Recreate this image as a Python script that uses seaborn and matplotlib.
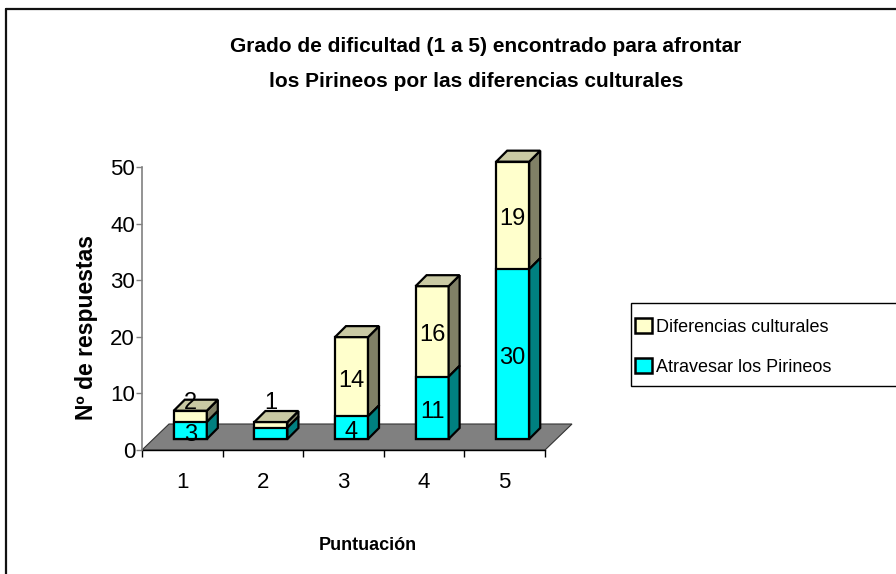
import numpy as np
import pandas as pd
import matplotlib
matplotlib.use("Agg")
import matplotlib.pyplot as plt
import matplotlib.transforms as mtransforms
from matplotlib.patches import Polygon, Patch, Rectangle
from matplotlib.lines import Line2D
import seaborn as sns

# values
puntuacion = ["1", "2", "3", "4", "5"]
atravesar = [3, 2, 4, 11, 30]
diferencias = [2, 1, 14, 16, 19]
etiquetas_atravesar = ["3", "", "4", "11", "30"]
etiquetas_diferencias = ["2", "1", "14", "16", "19"]
y_ticks = [0, 10, 20, 30, 40, 50]

titulo_1 = "Grado de dificultad (1 a 5) encontrado para afrontar"
titulo_2 = "los Pirineos por las diferencias culturales"

sns.set_theme(style="white")
plt.rcParams['font.family'] = ['Liberation Sans', 'DejaVu Sans']
plt.rcParams.update({"text.color": "black", "axes.labelcolor": "black",
                     "xtick.color": "black", "ytick.color": "black"})

cyan, cyan_side = "#00ffff", "#008080"
crema, crema_side, crema_top = "#ffffcc", "#808066", "#c9c9a3"
floor_col = "#808080"

# label nudges (px, relative to segment centre) - excel moves labels of thin segments up
nudge_atr = [-4, -4, -4, -4, -4]
nudge_dif = [13, 22, -4, -4, -4]

W, H = 896, 574
fig = plt.figure(figsize=(W / 100, H / 100), dpi=100)
fig.patch.set_facecolor("white")
ax = fig.add_axes([142 / W, 1 - 450 / H, (545 - 142) / W, (450 - 167) / H])

df = pd.DataFrame({"Puntuacion": puntuacion, "Atravesar": atravesar, "Diferencias": diferencias})
df["Total"] = df["Atravesar"] + df["Diferencias"]

bw = 0.41
sns.barplot(data=df, x="Puntuacion", y="Total", color=crema, saturation=1, width=bw,
            edgecolor="black", linewidth=1.6, ax=ax, zorder=3)
sns.barplot(data=df, x="Puntuacion", y="Atravesar", color=cyan, saturation=1, width=bw,
            edgecolor="black", linewidth=1.6, ax=ax, zorder=4)

ax.set_xlim(-0.5, 4.5)
ax.set_ylim(0, 50)

# pseudo 3d: pixel offsets turned into data units
p0 = ax.transData.transform((0, 0))
p1 = ax.transData.transform((1, 1))
px_x, px_y = p1[0] - p0[0], p1[1] - p0[1]
off = mtransforms.ScaledTranslation(8 / 100, 11 / 100, fig.dpi_scale_trans)
trans = ax.transData + off
dx, dy = 11 / px_x, 11 / px_y
fdx, fdy = 27 / px_x, 26 / px_y

# floor
floor = Polygon([(-0.5, 0), (4.5, 0), (4.5 + fdx, fdy), (-0.5 + fdx, fdy)], closed=True,
                facecolor=floor_col, edgecolor="#333333", lw=0.8, zorder=1, clip_on=False)
ax.add_patch(floor)

bars = ax.patches[:10]
tot_bars, cy_bars = bars[:5], bars[5:]
for i, (pt, pc) in enumerate(zip(tot_bars, cy_bars)):
    for p in (pt, pc):
        p.set_transform(trans)
        p.set_clip_on(False)
    x0, w = pt.get_x(), pt.get_width()
    top, mid = pt.get_height(), pc.get_height()
    side_y = Polygon([(x0 + w, mid), (x0 + w + dx, mid + dy), (x0 + w + dx, top + dy), (x0 + w, top)],
                     closed=True, facecolor=crema_side, edgecolor="black", lw=1.6,
                     transform=trans, clip_on=False, zorder=5)
    side_c = Polygon([(x0 + w, 0), (x0 + w + dx, dy), (x0 + w + dx, mid + dy), (x0 + w, mid)],
                     closed=True, facecolor=cyan_side, edgecolor="black", lw=1.6,
                     transform=trans, clip_on=False, zorder=5)
    tapa = Polygon([(x0, top), (x0 + dx, top + dy), (x0 + w + dx, top + dy), (x0 + w, top)],
                   closed=True, facecolor=crema_top, edgecolor="black", lw=1.6,
                   transform=trans, clip_on=False, zorder=5)
    for poly in (side_y, side_c, tapa):
        ax.add_patch(poly)

    # data labels
    xc = x0 + w / 2
    for lab, lo, val, nud in ((etiquetas_atravesar[i], 0, atravesar[i], nudge_atr[i]),
                              (etiquetas_diferencias[i], mid, diferencias[i], nudge_dif[i])):
        if not lab:
            continue
        yy = lo + val / 2 + nud / px_y
        ax.text(xc, yy, lab, transform=trans, ha="center", va="center",
                fontsize=17, color="black", zorder=8, clip_on=False)

# axes styling
sns.despine(ax=ax, top=True, right=True)
ax.spines["left"].set_color("#808080")
ax.spines["left"].set_linewidth(1.2)
ax.spines["bottom"].set_color("black")
ax.spines["bottom"].set_linewidth(1.0)
ax.spines["bottom"].set_zorder(2)

ax.set_yticks(y_ticks)
ax.set_yticklabels([str(v) for v in y_ticks])
ax.tick_params(axis="y", direction="out", length=4, width=1, color="#808080",
               labelcolor="black", pad=1, labelsize=16, left=True)

ax.set_xticks(np.arange(-0.5, 5, 1))
ax.set_xticklabels([])
ax.tick_params(axis="x", which="major", direction="out", length=5, width=1,
               color="black", bottom=True)
ax.set_xticks(np.arange(len(puntuacion)), minor=True)
ax.set_xticklabels(puntuacion, minor=True)
ax.tick_params(axis="x", which="minor", length=0, pad=16, labelsize=16, labelcolor="black")

ax.set_xlabel("")
ax.set_ylabel("")
ax.grid(False)
ax.set_facecolor("none")

fig.text(486 / W, 1 - 47 / H, titulo_1, ha="center", va="center", fontsize=15,
         fontweight="bold")
fig.text(476 / W, 1 - 81 / H, titulo_2, ha="center", va="center", fontsize=15,
         fontweight="bold")
fig.text(86 / W, 1 - 328 / H, "Nº de respuestas", rotation=90, ha="center", va="center",
         fontsize=16.5, fontweight="bold")
fig.text(368 / W, 1 - 545 / H, "Puntuación", ha="center", va="center", fontsize=13,
         fontweight="bold")

# legend box drawn on its own (it runs past the right edge of the picture)
fig.add_artist(Rectangle((631 / W, 1 - 386 / H), 300 / W, 83 / H, transform=fig.transFigure,
                         facecolor="white", edgecolor="black", lw=1.0, zorder=0.5))
handles = [Patch(facecolor=crema, edgecolor="black", lw=1.8, label="Diferencias culturales"),
           Patch(facecolor=cyan, edgecolor="black", lw=1.8, label="Atravesar los Pirineos")]
leg = fig.legend(handles=handles, loc="upper left",
                 bbox_to_anchor=(633 / W, 1 - 316 / H), frameon=False,
                 fontsize=13, handlelength=0.95, handleheight=0.9, handletextpad=0.25,
                 labelspacing=1.27, borderpad=0.1, borderaxespad=0)

# outer chart frame
fig.add_artist(Line2D([6 / W, 1], [1 - 9 / H, 1 - 9 / H], transform=fig.transFigure,
                      color="#111111", lw=1.6))
fig.add_artist(Line2D([6 / W, 6 / W], [0, 1 - 9 / H], transform=fig.transFigure,
                      color="#111111", lw=1.6))

fig.savefig("out.png", dpi=100)
